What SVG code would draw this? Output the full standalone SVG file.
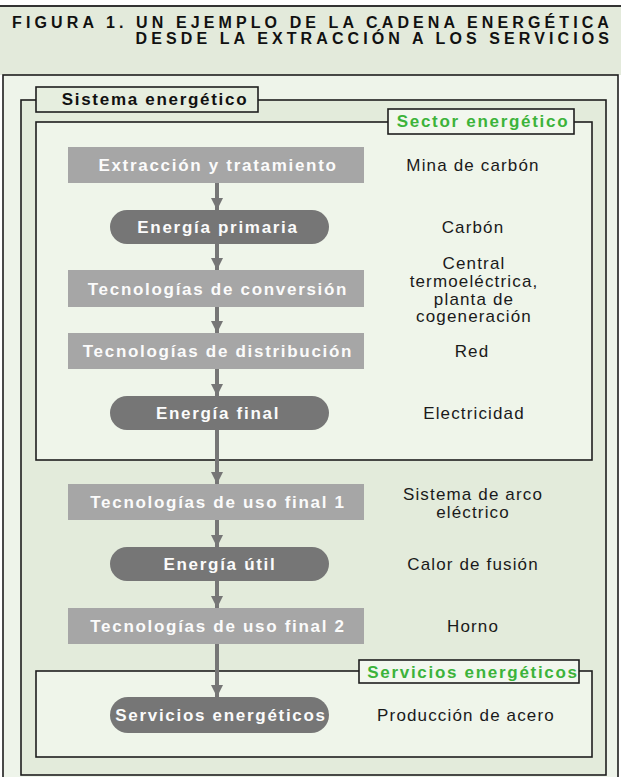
<svg xmlns="http://www.w3.org/2000/svg" width="621" height="777" viewBox="0 0 621 777">
<defs>
<style>
.hdr{fill:#e3eadb}
.panel{fill:#eef4ea;stroke:#1e1e1e;stroke-width:1.6}
.frameD{fill:#e3ebdb;stroke:#1e1e1e;stroke-width:1.6}
.frameL{fill:#eff5ea;stroke:#1e1e1e;stroke-width:1.6}
.labD{fill:#e6eedf;stroke:#1e1e1e;stroke-width:1.6}
.labL{fill:#f2f7ee;stroke:#1e1e1e;stroke-width:1.6}
.box{fill:#a6a6a6}
.pill{fill:#767676}
.title{font-family:"Liberation Sans",Arial,Helvetica,sans-serif;font-weight:bold;font-size:16px;letter-spacing:4.1px;fill:#111;text-anchor:end}
.nt{font-family:"Liberation Sans",Arial,Helvetica,sans-serif;font-weight:bold;font-size:17px;letter-spacing:1.7px;fill:#fbfbfb;text-anchor:middle}
.rt{font-family:"Liberation Sans",Arial,Helvetica,sans-serif;font-size:17px;letter-spacing:1.15px;fill:#1a1a1a;text-anchor:middle}
.ft{font-family:"Liberation Sans",Arial,Helvetica,sans-serif;font-weight:bold;font-size:17px;letter-spacing:1.7px;fill:#111;text-anchor:middle}
.gt{font-family:"Liberation Sans",Arial,Helvetica,sans-serif;font-weight:bold;font-size:17px;letter-spacing:1.7px;fill:#3cb33a;text-anchor:middle}
.arr{stroke:#767676;stroke-width:4;fill:none;marker-end:url(#ah)}
</style>
<marker id="ah" viewBox="0 0 12 12" refX="12" refY="6" markerWidth="12" markerHeight="12" markerUnits="userSpaceOnUse" orient="auto">
<path d="M0,0 L12,6 L0,12 Z" fill="#767676"/>
</marker>
</defs>

<g id="header">
<rect class="hdr" x="0" y="6" width="621" height="69"/>
<line x1="0" y1="6" x2="621" y2="6" stroke="#333" stroke-width="2"/>
<text class="title" x="613" y="28">FIGURA 1. UN EJEMPLO DE LA CADENA ENERGÉTICA</text>
<text class="title" x="613" y="44">DESDE LA EXTRACCIÓN A LOS SERVICIOS</text>
</g>

<g id="panel">
<rect class="panel" x="3" y="75" width="615" height="720"/>
</g>

<g id="sistema">
<rect class="frameD" x="21" y="100" width="585" height="675"/>
<rect class="labD" x="36" y="87" width="222" height="25"/>
<text class="ft" x="155" y="105">Sistema energético</text>
</g>

<g id="sector">
<rect class="frameL" x="36" y="122" width="556" height="338"/>
<rect class="labL" x="388" y="109" width="186" height="25"/>
<text class="gt" x="483" y="127">Sector energético</text>
</g>

<g id="servicios-frame">
<rect class="frameL" x="36" y="671" width="556" height="86"/>
<rect class="labL" x="359" y="660" width="220" height="23"/>
<text class="gt" x="473" y="677.5">Servicios energéticos</text>
</g>

<g id="connectors">
<line class="arr" x1="217" y1="183" x2="217" y2="210"/>
<line class="arr" x1="217" y1="244" x2="217" y2="270"/>
<line class="arr" x1="217" y1="307" x2="217" y2="333"/>
<line class="arr" x1="217" y1="369" x2="217" y2="396"/>
<line class="arr" x1="217" y1="430" x2="217" y2="484"/>
<line class="arr" x1="217" y1="520" x2="217" y2="547"/>
<line class="arr" x1="217" y1="581" x2="217" y2="608"/>
<line class="arr" x1="217" y1="644" x2="217" y2="697"/>
</g>

<g id="n-extraccion">
<rect class="box" x="68" y="147" width="296" height="36"/>
<text class="nt" x="218" y="171">Extracción y tratamiento</text>
<text class="rt" x="473" y="171">Mina de carbón</text>
</g>

<g id="n-primaria">
<rect class="pill" x="110" y="210" width="219" height="34" rx="17"/>
<text class="nt" x="218" y="233">Energía primaria</text>
<text class="rt" x="473" y="233">Carbón</text>
</g>

<g id="n-conversion">
<rect class="box" x="68" y="270" width="296" height="37"/>
<text class="nt" x="218" y="295">Tecnologías de conversión</text>
<text class="rt" x="474" y="269">Central</text>
<text class="rt" x="474" y="287">termoeléctrica,</text>
<text class="rt" x="474" y="304.5">planta de</text>
<text class="rt" x="474" y="322">cogeneración</text>
</g>

<g id="n-distribucion">
<rect class="box" x="68" y="333" width="296" height="36"/>
<text class="nt" x="218" y="357">Tecnologías de distribución</text>
<text class="rt" x="472" y="357">Red</text>
</g>

<g id="n-final">
<rect class="pill" x="110" y="396" width="219" height="34" rx="17"/>
<text class="nt" x="218" y="419">Energía final</text>
<text class="rt" x="474" y="419">Electricidad</text>
</g>

<g id="n-uso1">
<rect class="box" x="68" y="484" width="296" height="36"/>
<text class="nt" x="218" y="508">Tecnologías de uso final 1</text>
<text class="rt" x="473" y="500">Sistema de arco</text>
<text class="rt" x="473" y="518">eléctrico</text>
</g>

<g id="n-util">
<rect class="pill" x="110" y="547" width="219" height="34" rx="17"/>
<text class="nt" x="220" y="570">Energía útil</text>
<text class="rt" x="473" y="570">Calor de fusión</text>
</g>

<g id="n-uso2">
<rect class="box" x="68" y="608" width="296" height="36"/>
<text class="nt" x="218" y="632">Tecnologías de uso final 2</text>
<text class="rt" x="473" y="632">Horno</text>
</g>

<g id="n-servicios">
<rect class="pill" x="110" y="697" width="219" height="36" rx="18"/>
<text class="nt" x="221" y="721">Servicios energéticos</text>
<text class="rt" x="466" y="721">Producción de acero</text>
</g>
</svg>
